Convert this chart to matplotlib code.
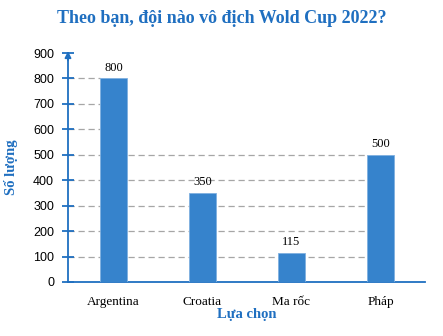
import matplotlib
matplotlib.use("Agg")
import matplotlib.pyplot as plt

categories = ["Argentina", "Croatia", "Ma rốc", "Pháp"]
values = [800, 350, 115, 500]
yticks = [0, 100, 200, 300, 400, 500, 600, 700, 800, 900]

blue = "#1f6fc0"
bar_color = "#3683cc"
bar_w = 0.31

fig = plt.figure(figsize=(4.43, 3.36), dpi=100)
ax = fig.add_axes([68 / 443, 54 / 336, 357 / 443, 229 / 336])

x = list(range(len(categories)))
ax.bar(x, values, width=bar_w, color=bar_color, edgecolor="#7fb0e0",
       linewidth=0.6, zorder=3)

for xi, v in zip(x, values):
    ax.text(xi, v + 18, str(v), ha="center", va="bottom",
            family="Liberation Serif", fontsize=9, color="black")

xmin = -0.51
ax.set_xlim(xmin, 3.5)
ax.set_ylim(0, 900)
ax.set_yticks(yticks)
ax.set_yticklabels([str(t) for t in yticks], family="Liberation Sans", fontsize=9)
ax.set_xticks(x)
ax.set_xticklabels(categories, family="Liberation Serif", fontsize=9.5)

# dashed leader lines: from the axis to the last bar that reaches that level
for t in yticks[1:-1]:
    reach = [xi for xi, v in zip(x, values) if v >= t]
    if reach:
        ax.hlines(t, xmin, reach[-1] - bar_w / 2, color="#a6a6a6", lw=0.9,
                  ls=(0, (5, 3)), zorder=1)

for s in ["top", "right"]:
    ax.spines[s].set_visible(False)
ax.spines["left"].set_color(blue)
ax.spines["bottom"].set_color(blue)
ax.spines["left"].set_linewidth(1.3)
ax.spines["bottom"].set_linewidth(1.3)
ax.tick_params(axis="y", direction="inout", length=8, color=blue, width=1.3, pad=6)
ax.tick_params(axis="x", length=0, pad=10)

# arrow at top of y-axis
ax.annotate("", xy=(xmin, 918), xytext=(xmin, 860),
            arrowprops=dict(arrowstyle="-|>", color=blue, lw=1.3, mutation_scale=9),
            annotation_clip=False)

ax.set_ylabel("Số lượng", family="Liberation Serif", fontweight="bold",
              fontsize=10.5, color=blue)
ax.yaxis.set_label_coords(-0.14, 0.5)
ax.set_xlabel("Lựa chọn", family="Liberation Serif", fontweight="bold",
              fontsize=10.5, color=blue, labelpad=0)

fig.text(0.5, 0.945, "Theo bạn, đội nào vô địch Wold Cup 2022?",
         ha="center", va="center", family="Liberation Serif", fontweight="bold",
         fontsize=13, color=blue)

fig.savefig("out.png", dpi=100)
